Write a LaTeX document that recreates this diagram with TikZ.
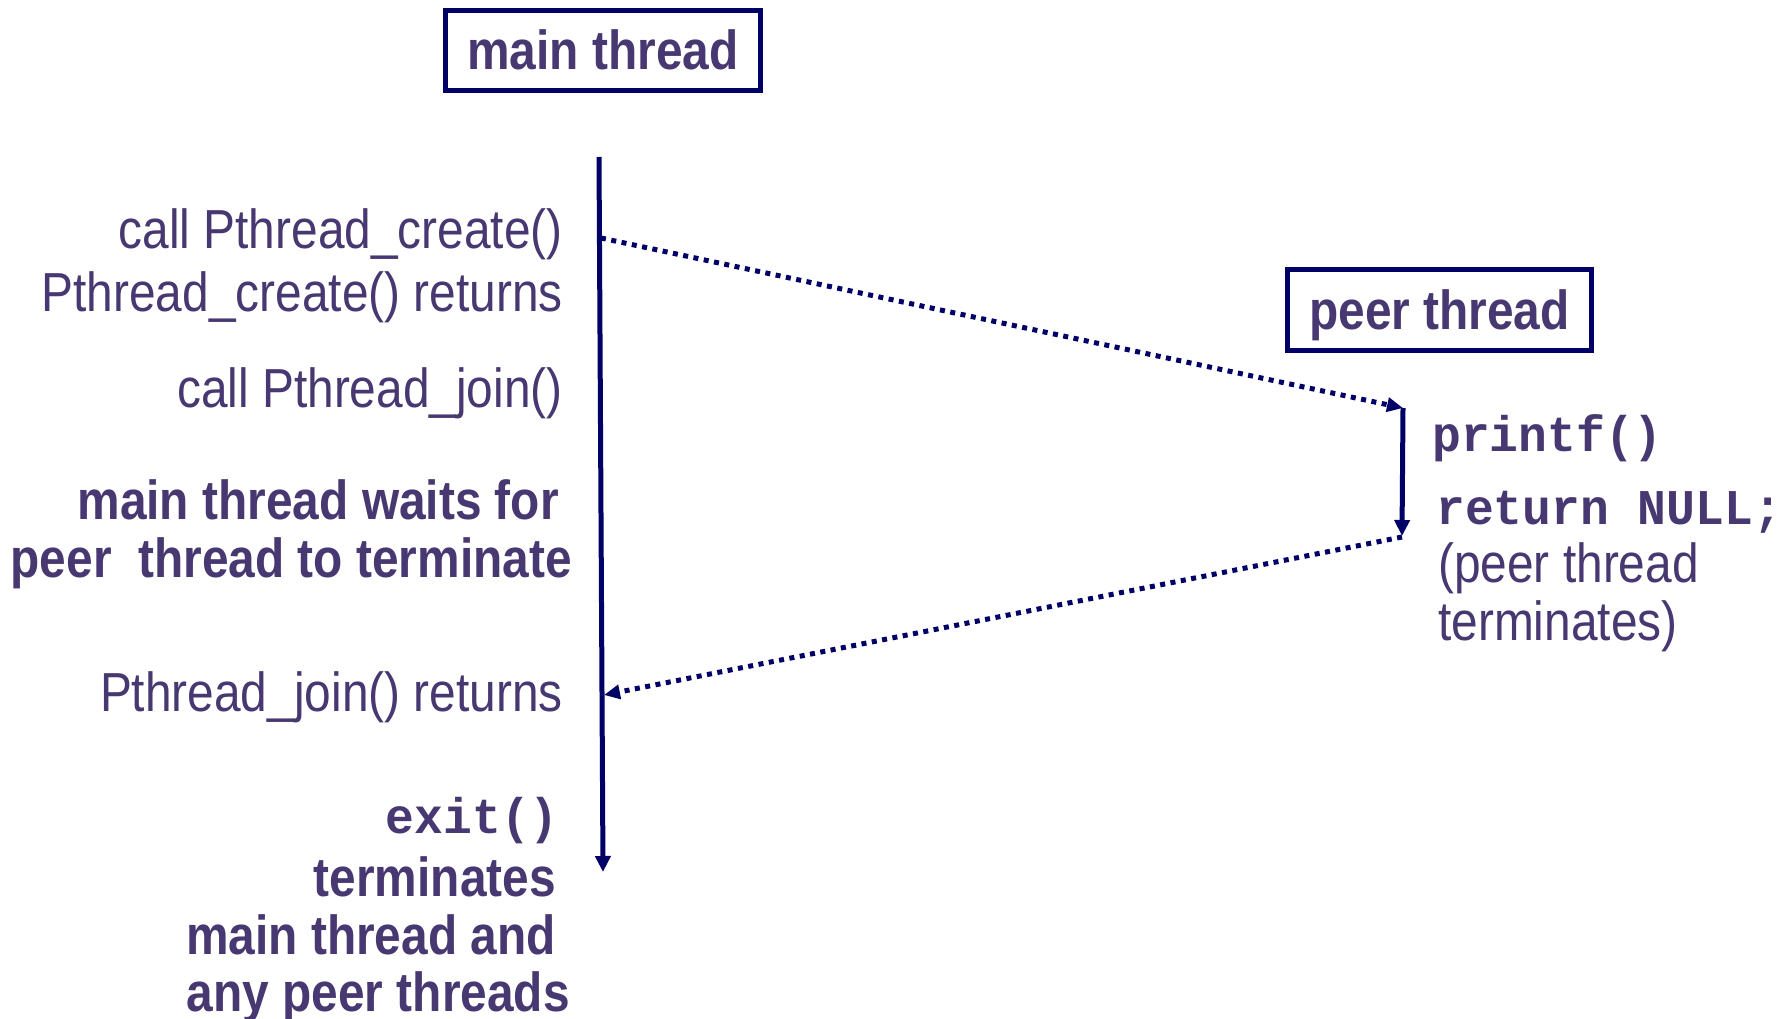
\documentclass[tikz,border=0pt]{standalone}
\usepackage{fontspec}
\setmainfont{Liberation Sans}[FakeStretch=0.87]
\newfontfamily\cmono{Liberation Mono}[FakeStretch=0.96]
\usetikzlibrary{arrows.meta}
\definecolor{textc}{RGB}{72,56,114}
\definecolor{linec}{RGB}{0,0,102}
\tikzset{
  lbl/.style={text=textc, inner sep=0pt, font=\fontsize{55}{60}\selectfont},
  lblb/.style={text=textc, inner sep=0pt, font=\fontsize{55}{60}\selectfont\bfseries},
  code/.style={text=textc, inner sep=0pt, font=\fontsize{50}{55}\selectfont\cmono\bfseries},
  threadbox/.style={draw=linec, line width=5pt, text=textc, inner sep=0pt,
    font=\fontsize{55}{60}\selectfont\bfseries, text height=39pt, text depth=0pt},
  flow/.style={draw=linec, line width=5pt, -{Triangle[length=16pt,width=15pt]}},
  msg/.style={draw=linec, line width=5pt, dash pattern=on 5pt off 5.5pt,
    -{Triangle[length=16pt,width=14pt]}}
}
\begin{document}
\begin{tikzpicture}[x=1pt,y=-1pt]
\useasboundingbox[fill=white] (0,0) rectangle (1787,1019);

% boxes
\node[threadbox, minimum width=315pt, minimum height=80pt] (mainbox) at (603,50.5) {main thread};
\node[threadbox, minimum width=304pt, minimum height=81pt] (peerbox) at (1439.5,310) {peer thread};

% coordinates
\coordinate (mtop) at (599,157);
\coordinate (mbot) at (603,872);
\coordinate (create) at (601,238);
\coordinate (joinret) at (604,695);
\coordinate (ptop) at (1403,408);
\coordinate (pbot) at (1402,536);
\coordinate (pend) at (1402,537);

% connectors
\draw[flow] (mtop) -- (mbot);
\draw[flow] (ptop) -- (pbot);
\draw[msg] (create) -- (ptop);
\draw[msg] (pend) -- (joinret);

% left labels
\node[lbl, anchor=base east] (l1) at (563,248) {call Pthread\_create()};
\node[lbl, anchor=base east] (l2) at (563,311) {Pthread\_create() returns};
\node[lbl, anchor=base east] (l3) at (563,407) {call Pthread\_join()};
\node[lblb, anchor=base east] (l4) at (559,519) {main thread waits for};
\node[lblb, anchor=base east] (l5) at (572,577) {peer~ thread to terminate};
\node[lbl, anchor=base east] (l6) at (563,711) {Pthread\_join() returns};
\node[code, anchor=base east] (l7) at (559,833) {exit()};
\node[lblb, anchor=base east] (l8) at (556,896) {terminates};
\node[lblb, anchor=base east] (l9) at (556,954) {main thread and};
\node[lblb, anchor=base east] (l10) at (570,1011) {any peer threads};

% right labels
\node[code, anchor=base west] (r1) at (1432,451) {printf()};
\node[code, anchor=base west] (r2) at (1436,524) {return NULL;};
\node[lbl, anchor=base west] (r3) at (1438,582) {(peer thread};
\node[lbl, anchor=base west] (r4) at (1438,640) {terminates)};
\end{tikzpicture}
\end{document}
